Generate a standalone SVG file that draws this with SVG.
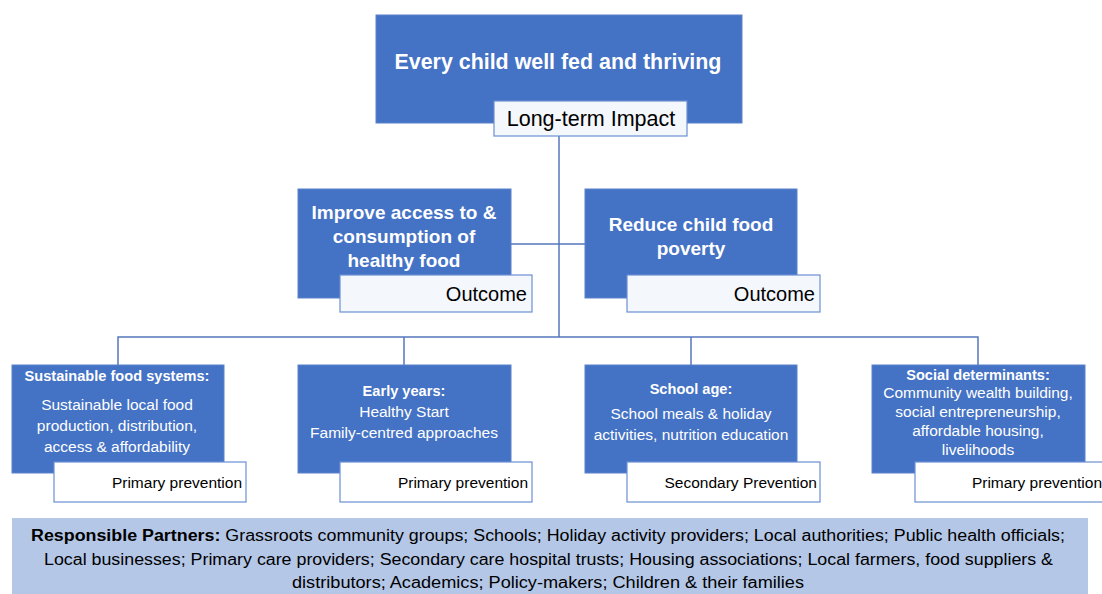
<svg xmlns="http://www.w3.org/2000/svg" width="1102" height="594" viewBox="0 0 1102 594">
<style>
.box{fill:#4472C4;stroke:#5b82cc;stroke-width:1}
.lab{fill:#f4f7fc;stroke:#6a8fd2;stroke-width:1.2}
.lab2{fill:#ffffff;stroke:#6a8fd2;stroke-width:1.2}
.conn{stroke:#5577bb;stroke-width:1.5;fill:none}
text{font-family:"Liberation Sans",Arial,sans-serif}
.t1{fill:#fff;font-weight:bold;font-size:21.4px;text-anchor:middle}
.t2{fill:#fff;font-weight:bold;font-size:19px;text-anchor:middle}
.hb{fill:#fff;font-weight:bold;font-size:14.6px;text-anchor:middle}
.bd{fill:#fff;font-size:15.5px;text-anchor:middle}
.lt{fill:#000;font-size:21.5px;text-anchor:middle}
.ot{fill:#000;font-size:20px;text-anchor:end}
.pp{fill:#000;font-size:15.5px;text-anchor:end}
.rp{fill:#000;font-size:16px;text-anchor:start}
</style>
<rect width="1102" height="594" fill="#fff"/>
<g id="connectors">
<line class="conn" x1="559" y1="136" x2="559" y2="337"/>
<line class="conn" x1="511" y1="244" x2="585" y2="244"/>
<polyline class="conn" points="118,365 118,337 978,337 978,365"/>
<line class="conn" x1="404" y1="337" x2="404" y2="365"/>
<line class="conn" x1="691" y1="337" x2="691" y2="365"/>
</g>
<g id="impact">
<rect class="box" x="376" y="15" width="366" height="108"/>
<text class="t1" x="558" y="69">Every child well fed and thriving</text>
<rect class="lab" x="494" y="101" width="193" height="35"/>
<text class="lt" x="591" y="126">Long-term Impact</text>
</g>
<g id="outcome1">
<rect class="box" x="298" y="189" width="213" height="109"/>
<text class="t2" x="404" y="219">Improve access to &amp;</text>
<text class="t2" x="404" y="243">consumption of</text>
<text class="t2" x="404" y="267">healthy food</text>
<rect class="lab" x="340" y="275" width="192" height="37"/>
<text class="ot" x="527" y="301">Outcome</text>
</g>
<g id="outcome2">
<rect class="box" x="585" y="189" width="212" height="109"/>
<text class="t2" x="691" y="231">Reduce child food</text>
<text class="t2" x="691" y="255">poverty</text>
<rect class="lab" x="627" y="275" width="193" height="37"/>
<text class="ot" x="815" y="301">Outcome</text>
</g>
<g id="sustainable">
<rect class="box" x="12" y="365" width="212" height="108"/>
<text class="hb" x="117" y="381">Sustainable food systems:</text>
<text class="bd" x="117" y="410">Sustainable local food</text>
<text class="bd" x="117" y="431">production, distribution,</text>
<text class="bd" x="117" y="452">access &amp; affordability</text>
<rect class="lab2" x="54" y="462" width="192" height="40"/>
<text class="pp" x="242" y="488">Primary prevention</text>
</g>
<g id="early">
<rect class="box" x="298" y="365" width="213" height="108"/>
<text class="hb" x="404" y="396">Early years:</text>
<text class="bd" x="404" y="417">Healthy Start</text>
<text class="bd" x="404" y="438">Family-centred approaches</text>
<rect class="lab2" x="340" y="462" width="192" height="40"/>
<text class="pp" x="528" y="488">Primary prevention</text>
</g>
<g id="school">
<rect class="box" x="585" y="365" width="212" height="108"/>
<text class="hb" x="691" y="394">School age:</text>
<text class="bd" x="691" y="419">School meals &amp; holiday</text>
<text class="bd" x="691" y="440">activities, nutrition education</text>
<rect class="lab2" x="627" y="462" width="193" height="40"/>
<text class="pp" x="817" y="488">Secondary Prevention</text>
</g>
<g id="social">
<rect class="box" x="872" y="365" width="213" height="108"/>
<text class="hb" x="978" y="380">Social determinants:</text>
<text class="bd" x="978" y="398">Community wealth building,</text>
<text class="bd" x="978" y="417">social entrepreneurship,</text>
<text class="bd" x="978" y="436">affordable housing,</text>
<text class="bd" x="978" y="455">livelihoods</text>
<rect class="lab2" x="915" y="462" width="200" height="40"/>
<text class="pp" x="1102" y="488">Primary prevention</text>
</g>
<g id="partners">
<rect x="12" y="518" width="1076" height="80" fill="#b4c7e7"/>
<text class="rp" x="31" y="541" textLength="1034" lengthAdjust="spacingAndGlyphs"><tspan font-weight="bold">Responsible Partners:</tspan> Grassroots community groups; Schools; Holiday activity providers; Local authorities; Public health officials;</text>
<text class="rp" x="44" y="565" textLength="1009" lengthAdjust="spacingAndGlyphs">Local businesses; Primary care providers; Secondary care hospital trusts; Housing associations; Local farmers, food suppliers &amp;</text>
<text class="rp" x="292" y="588" textLength="512" lengthAdjust="spacingAndGlyphs">distributors; Academics; Policy-makers; Children &amp; their families</text>
</g>
</svg>
